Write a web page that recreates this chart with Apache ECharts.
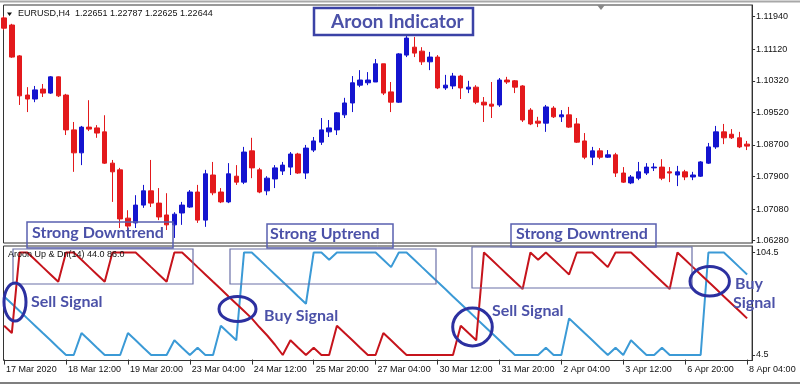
<!DOCTYPE html>
<html><head><meta charset="utf-8">
<script src="https://cdn.jsdelivr.net/npm/echarts@6.0.0/dist/echarts.min.js"></script>
<style>html,body{margin:0;padding:0;background:#fff}#c{width:800px;height:385px}</style>
</head><body><div id="c"></div>
<script>
const categories = ["17 Mar 2020","17 Mar 08:00","17 Mar 12:00","17 Mar 16:00","17 Mar 20:00","18 Mar 00:00","18 Mar 04:00","18 Mar 08:00",
"18 Mar 12:00","18 Mar 16:00","18 Mar 20:00","19 Mar 00:00","19 Mar 04:00","19 Mar 08:00","19 Mar 12:00","19 Mar 16:00",
"19 Mar 20:00","20 Mar 00:00","20 Mar 04:00","20 Mar 08:00","20 Mar 12:00","20 Mar 16:00","20 Mar 20:00","23 Mar 00:00",
"23 Mar 04:00","23 Mar 08:00","23 Mar 12:00","23 Mar 16:00","23 Mar 20:00","24 Mar 00:00","24 Mar 04:00","24 Mar 08:00",
"24 Mar 12:00","24 Mar 16:00","24 Mar 20:00","25 Mar 00:00","25 Mar 04:00","25 Mar 08:00","25 Mar 12:00","25 Mar 16:00",
"25 Mar 20:00","26 Mar 00:00","26 Mar 04:00","26 Mar 08:00","26 Mar 12:00","26 Mar 16:00","26 Mar 20:00","27 Mar 00:00",
"27 Mar 04:00","27 Mar 08:00","27 Mar 12:00","27 Mar 16:00","27 Mar 20:00","30 Mar 00:00","30 Mar 04:00","30 Mar 08:00",
"30 Mar 12:00","30 Mar 16:00","30 Mar 20:00","31 Mar 00:00","31 Mar 04:00","31 Mar 08:00","31 Mar 12:00","31 Mar 16:00",
"31 Mar 20:00","1 Apr 00:00","1 Apr 04:00","1 Apr 08:00","1 Apr 12:00","1 Apr 16:00","1 Apr 20:00","2 Apr 00:00",
"2 Apr 04:00","2 Apr 08:00","2 Apr 12:00","2 Apr 16:00","2 Apr 20:00","3 Apr 00:00","3 Apr 04:00","3 Apr 08:00",
"3 Apr 12:00","3 Apr 16:00","3 Apr 20:00","6 Apr 00:00","6 Apr 04:00","6 Apr 08:00","6 Apr 12:00","6 Apr 16:00",
"6 Apr 20:00","7 Apr 00:00","7 Apr 04:00","7 Apr 08:00","7 Apr 12:00","7 Apr 16:00","7 Apr 20:00","8 Apr 00:00",
"8 Apr 04:00"];

const opens = [1.1191,1.1173,1.1095,1.0996,1.0986,1.1011,1.1001,1.1042,1.0996,1.0908,
1.0850,1.0915,1.0913,1.0903,1.0824,1.0807,1.0685,1.0673,1.0718,1.0754,
1.0723,1.0693,1.0668,1.0698,1.0713,1.0751,1.0680,1.0794,1.0751,1.0726,
1.0791,1.0776,1.0855,1.0807,1.0754,1.0784,1.0804,1.0814,1.0847,1.0799,
1.0857,1.0877,1.0903,1.0908,1.0946,1.0976,1.1021,1.1027,1.1029,1.1075,
1.1004,1.0978,1.1097,1.1117,1.1107,1.1080,1.1092,1.1014,1.1019,1.1044,
1.1011,1.1016,1.0978,1.0973,1.0971,1.1034,1.1032,1.1019,1.0958,1.0930,
1.0925,1.0963,1.0941,1.0946,1.0923,1.0880,1.0839,1.0855,1.0839,1.0845,
1.0799,1.0774,1.0786,1.0799,1.0812,1.0814,1.0802,1.0794,1.0802,1.0789,
1.0791,1.0824,1.0865,1.0903,1.0897,1.0888,1.0872];
const closes = [1.1165,1.1092,1.0994,1.0986,1.1009,1.1001,1.1042,1.0994,1.0908,1.0850,
1.0915,1.0910,1.0900,1.0824,1.0802,1.0683,1.0665,1.0718,1.0754,1.0723,
1.0688,1.0668,1.0695,1.0718,1.0751,1.0680,1.0797,1.0749,1.0726,1.0797,
1.0776,1.0852,1.0812,1.0751,1.0786,1.0812,1.0819,1.0847,1.0799,1.0862,
1.0880,1.0908,1.0913,1.0951,1.0976,1.1027,1.1034,1.1034,1.1075,1.1001,
1.0978,1.1100,1.1140,1.1102,1.1080,1.1092,1.1014,1.1021,1.1044,1.1014,
1.1016,1.0978,1.0971,1.0968,1.1034,1.1029,1.1016,1.0933,1.0923,1.0925,
1.0966,1.0941,1.0946,1.0915,1.0877,1.0839,1.0855,1.0839,1.0845,1.0799,
1.0776,1.0789,1.0802,1.0814,1.0814,1.0786,1.0799,1.0802,1.0789,1.0794,
1.0827,1.0865,1.0903,1.0888,1.0888,1.0865,1.0867];
const lows = [1.1160,1.1090,1.0971,1.0953,1.0978,1.0991,1.0999,1.0991,1.0895,1.0802,
1.0819,1.0905,1.0888,1.0822,1.0726,1.0660,1.0655,1.0660,1.0711,1.0713,
1.0680,1.0655,1.0635,1.0668,1.0711,1.0673,1.0663,1.0743,1.0723,1.0723,
1.0769,1.0771,1.0786,1.0748,1.0743,1.0761,1.0794,1.0794,1.0797,1.0784,
1.0852,1.0870,1.0890,1.0895,1.0938,1.0953,1.1016,1.1021,1.1029,1.0996,
1.0953,1.0976,1.1092,1.1092,1.1072,1.1059,1.1011,1.1009,1.1011,1.0986,
1.1001,1.0973,1.0928,1.0938,1.0966,1.1024,1.1001,1.0928,1.0920,1.0915,
1.0903,1.0938,1.0928,1.0913,1.0875,1.0834,1.0819,1.0834,1.0837,1.0789,
1.0774,1.0771,1.0781,1.0794,1.0804,1.0781,1.0776,1.0766,1.0781,1.0781,
1.0789,1.0822,1.0860,1.0872,1.0885,1.0862,1.0857];
const highs = [1.1196,1.1176,1.1097,1.1016,1.1019,1.1024,1.1044,1.1043,1.0999,1.0928,
1.0918,1.0983,1.0920,1.0945,1.0832,1.0812,1.0705,1.0743,1.0769,1.0832,
1.0761,1.0748,1.0700,1.0726,1.0756,1.0769,1.0807,1.0827,1.0761,1.0824,
1.0819,1.0865,1.0888,1.0812,1.0791,1.0819,1.0827,1.0852,1.0850,1.0870,
1.0890,1.0938,1.0933,1.0953,1.0989,1.1044,1.1059,1.1054,1.1087,1.1075,
1.1029,1.1102,1.1148,1.1143,1.1117,1.1105,1.1097,1.1047,1.1052,1.1047,
1.1032,1.1021,1.0991,1.1029,1.1039,1.1042,1.1034,1.1021,1.0963,1.0941,
1.0971,1.0968,1.0958,1.0966,1.0938,1.0900,1.0865,1.0862,1.0857,1.0850,
1.0814,1.0794,1.0827,1.0824,1.0824,1.0834,1.0814,1.0817,1.0807,1.0802,
1.0829,1.0875,1.0918,1.0923,1.0910,1.0903,1.0880];

const aroonUp = [61.6,54.5,47.4,40.2,33.1,25.9,18.8,11.6,4.5,4.5,
25.9,18.8,11.6,4.5,4.5,4.5,25.9,18.8,11.6,4.5,
4.5,4.5,18.8,11.6,4.5,11.6,4.5,4.5,33.1,25.9,
18.8,104.5,104.5,97.4,90.2,83.1,75.9,68.8,61.6,54.5,
104.5,104.5,97.4,104.5,104.5,104.5,104.5,104.5,104.5,97.4,
90.2,104.5,104.5,97.4,90.2,83.1,75.9,68.8,61.6,54.5,
47.4,40.2,33.1,25.9,18.8,11.6,4.5,4.5,4.5,4.5,
11.6,4.5,4.5,40.2,33.1,25.9,18.8,11.6,4.5,11.6,
4.5,18.8,11.6,4.5,4.5,11.6,4.5,4.5,4.5,4.5,
4.5,104.5,104.5,104.5,97.4,90.2,83.1];
const aroonDown = [33.1,25.9,104.5,104.5,97.4,90.2,83.1,75.9,104.5,104.5,
97.4,90.2,83.1,75.9,104.5,104.5,104.5,104.5,97.4,90.2,
83.1,75.9,104.5,104.5,97.4,90.2,83.1,75.9,68.8,61.6,
54.5,47.4,40.2,31.5,23.5,14.5,4.5,18.8,11.6,4.5,
11.6,4.5,4.5,33.1,25.9,18.8,11.6,4.5,4.5,25.9,
18.8,11.6,4.5,4.5,4.5,4.5,4.5,4.5,4.5,33.1,
25.9,18.8,104.5,97.4,90.2,83.1,75.9,68.8,104.5,97.4,
104.5,97.4,90.2,83.1,104.5,104.5,104.5,97.4,90.2,104.5,
104.5,104.5,97.4,90.2,83.1,75.9,68.8,104.5,97.4,90.2,
83.1,75.9,68.8,61.6,54.5,47.4,40.2];

const priceTicks = [1.11940,1.11120,1.10320,1.09520,1.08700,1.07900,1.07080,1.06280];
const aroonTicks = [104.5, 4.5];

const candles = opens.map((o,i)=>[o, closes[i], lows[i], highs[i]]);

const BLUE='#1414cf', RED='#e3191c', ANN='#4b51a8', ELL='#2c30a0', BOXC='#6b70a8';
const axisFont='Liberation Sans';
const annFont='Lato';

function rect(x,y,w,h,stroke,lw,z){return {type:'rect',z:z||100,shape:{x:x,y:y,width:w,height:h},style:{fill:null,stroke:stroke,lineWidth:lw}};}
function txt(x,y,t,font,fill){return {type:'text',z:101,x:x,y:y,style:{text:t,font:font,fill:fill,verticalAlign:'middle',align:'left'}};}
function ell(cx,cy,rx,ry){return {type:'ellipse',z:102,shape:{cx:cx,cy:cy,rx:rx,ry:ry},style:{fill:null,stroke:ELL,lineWidth:3}};}

const chart = echarts.init(document.getElementById('c'));
chart.setOption({
  animation:false,
  backgroundColor:'#fff',
  grid:[
    {left:4.1,right:52.9,top:5,height:238},
    {left:4.1,right:52.9,top:246,height:114.5}
  ],
  xAxis:[
    {type:'category',gridIndex:0,data:categories,boundaryGap:false,axisLine:{show:false},axisTick:{show:false},axisLabel:{show:false},splitLine:{show:false}},
    {type:'category',gridIndex:1,data:categories,boundaryGap:false,axisLine:{show:false},
     axisTick:{show:true,interval:7,length:5,lineStyle:{color:'#333'}},
     axisLabel:{show:true,interval:7,align:'left',margin:5,fontSize:9,fontFamily:axisFont,color:'#111',padding:[0,0,0,2]},
     splitLine:{show:false}}
  ],
  yAxis:[
    {type:'value',gridIndex:0,position:'right',offset:5,min:1.062219,max:1.122356,
     axisLine:{show:true,lineStyle:{color:'#333'}},
     axisTick:{show:true,length:3,customValues:priceTicks,lineStyle:{color:'#333'}},
     axisLabel:{show:true,customValues:priceTicks,formatter:v=>v.toFixed(5),fontSize:9,fontFamily:axisFont,color:'#111',margin:4},
     splitLine:{show:false}},
    {type:'value',gridIndex:1,position:'right',offset:5,min:-0.87,max:110.8,
     axisLine:{show:true,lineStyle:{color:'#333'}},
     axisTick:{show:true,length:3,customValues:aroonTicks,lineStyle:{color:'#333'}},
     axisLabel:{show:true,customValues:aroonTicks,formatter:v=>String(v),fontSize:9,fontFamily:axisFont,color:'#111',margin:4},
     splitLine:{show:false}}
  ],
  series:[
    {type:'candlestick',xAxisIndex:0,yAxisIndex:0,data:candles,barWidth:5,
     itemStyle:{color:BLUE,color0:RED,borderColor:BLUE,borderColor0:RED,borderWidth:1}},
    {type:'line',name:'Aroon Up',xAxisIndex:1,yAxisIndex:1,data:aroonUp,showSymbol:false,
     lineStyle:{color:'#3b9ad6',width:2}},
    {type:'line',name:'Aroon Down',xAxisIndex:1,yAxisIndex:1,data:aroonDown,showSymbol:false,
     lineStyle:{color:'#c6141c',width:2}}
  ],
  graphic:[
    {type:'line',z:1,shape:{x1:0,y1:1.5,x2:800,y2:1.5},style:{stroke:'#a8a8a8',lineWidth:2}},
    {type:'line',z:1,shape:{x1:0,y1:383,x2:800,y2:383},style:{stroke:'#555',lineWidth:1.5}},
    rect(3.5,5,748.6,238,'#333',1,1),
    rect(3.5,246,748.6,114.5,'#333',1,1),
    {type:'polygon',z:1,shape:{points:[[597,5],[605,5],[601,10]]},style:{fill:'#888'}},
    {type:'polygon',z:101,shape:{points:[[7,12.5],[12,12.5],[9.5,16]]},style:{fill:'#111'}},
    txt(18,14,'EURUSD,H4  1.22651 1.22787 1.22625 1.22644','9px '+axisFont,'#111'),
    txt(8,255,'Aroon Up & Dn(14) 44.0 86.0','9px '+axisFont,'#111'),
    // title box
    rect(314,8,159,27,'#3b42a6',2.5),
    txt(331,21.5,'Aroon Indicator','bold 19px '+annFont,ANN),
    // trend label boxes
    rect(27,222,146,26,'#5a60b0',1.5),
    txt(32,233,'Strong Downtrend','bold 16px '+annFont,ANN),
    rect(267,224,126,24,'#5a60b0',1.5),
    txt(270,234,'Strong Uptrend','bold 16px '+annFont,ANN),
    rect(511,224,145,23,'#5a60b0',1.5),
    txt(516,234,'Strong Downtrend','bold 16px '+annFont,ANN),
    // indicator boxes
    rect(13,249,180,35,BOXC,1.2),
    rect(230,249,206,35,BOXC,1.2),
    rect(472,247,220,41,BOXC,1.2),
    // signals
    ell(15,302,11,19),
    txt(31,302,'Sell Signal','bold 16px '+annFont,ANN),
    ell(237.5,309,18.5,12.5),
    txt(264,316,'Buy Signal','bold 16px '+annFont,ANN),
    ell(472.5,327,19.8,19),
    txt(492,311,'Sell Signal','bold 16px '+annFont,ANN),
    ell(709.7,281.3,19.7,14.7),
    txt(735,284,'Buy','bold 16px '+annFont,ANN),
    txt(733,303,'Signal','bold 16px '+annFont,ANN)
  ]
});
</script></body></html>
